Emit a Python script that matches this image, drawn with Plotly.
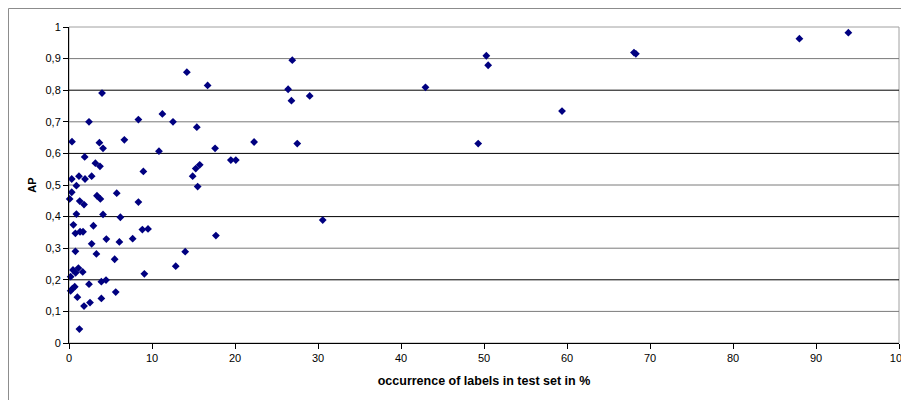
import plotly.graph_objects as go

# occurrence of labels in test set (%) and AP
occurrence = [
    0.36, 0.89, 0.33, 1.20, 1.93, 2.73, 1.89, 2.41, 3.18, 3.73, 3.66, 4.10, 3.98,
    6.67, 8.36, 8.96, 10.84, 11.25, 12.53, 14.2, 16.7, 15.4, 17.6, 19.5, 20.1,
    22.3, 26.9, 26.4, 26.8, 29.0, 27.5, 15.75, 15.27, 14.9, 15.5, 30.57, 17.7,
    14.0, 12.86, 0.33, 0.08, 1.29, 1.81, 3.37, 3.78, 5.75, 8.36, 0.89, 4.10,
    6.19, 0.53, 2.94, 0.77, 1.33, 1.69, 8.84, 9.52, 2.73, 4.50, 6.07, 7.67,
    0.77, 3.30, 5.50, 0.48, 1.13, 1.65, 0.80, 0.20, 9.08, 0.69, 0.41, 0.20,
    2.41, 3.90, 4.46, 5.63, 1.01, 3.90, 2.53, 1.81, 1.25,
    50.28, 50.5, 42.95, 59.4, 49.3, 68.07, 68.3, 88.0, 93.9,
]
ap = [
    0.637, 0.498, 0.519, 0.528, 0.519, 0.528, 0.589, 0.700, 0.569, 0.559, 0.634,
    0.616, 0.791, 0.643, 0.707, 0.543, 0.607, 0.725, 0.700, 0.857, 0.815, 0.683,
    0.616, 0.579, 0.579, 0.636, 0.895, 0.803, 0.767, 0.782, 0.631, 0.564, 0.552,
    0.528, 0.495, 0.389, 0.340, 0.289, 0.243, 0.477, 0.456, 0.449, 0.438, 0.466,
    0.456, 0.474, 0.446, 0.408, 0.407, 0.398, 0.374, 0.371, 0.347, 0.352, 0.352,
    0.359, 0.361, 0.314, 0.329, 0.320, 0.330, 0.290, 0.282, 0.265, 0.231, 0.237,
    0.225, 0.222, 0.210, 0.219, 0.178, 0.172, 0.165, 0.186, 0.194, 0.199, 0.161,
    0.145, 0.141, 0.128, 0.117, 0.044,
    0.909, 0.879, 0.809, 0.734, 0.631, 0.919, 0.915, 0.963, 0.982,
]

x_ticks = [0, 10, 20, 30, 40, 50, 60, 70, 80, 90, 100]
y_ticks = [0, 0.1, 0.2, 0.3, 0.4, 0.5, 0.6, 0.7, 0.8, 0.9, 1]
y_tick_labels = ["0", "0,1", "0,2", "0,3", "0,4", "0,5", "0,6", "0,7", "0,8", "0,9", "1"]

fig = go.Figure()
fig.add_trace(go.Scatter(
    x=occurrence, y=ap, mode="markers",
    marker=dict(symbol="diamond", size=6, color="#000080", line=dict(width=0)),
    hoverinfo="x+y", showlegend=False, cliponaxis=False,
))

shapes = []
# plot-area border (light gray)
shapes.append(dict(type="rect", xref="paper", yref="paper", x0=0, x1=1, y0=0, y1=1,
                   line=dict(color="#a0a0a0", width=1), layer="below"))
# gridlines with alternating tones as in the reference
for i, v in enumerate(y_ticks[1:-1]):
    shapes.append(dict(type="line", xref="paper", yref="y", x0=0, x1=1, y0=v, y1=v,
                       line=dict(color="#000000" if i % 2 == 1 else "#7a7a7a", width=1),
                       layer="below"))
# outer chart border
shapes.append(dict(type="rect", xref="paper", yref="paper",
                   x0=-0.0729, x1=1.05, y0=-0.2, y1=1.0585,
                   line=dict(color="#8c8c8c", width=1)))

font = "Liberation Sans, Arial, sans-serif"
fig.update_layout(
    width=901, height=392,
    margin=dict(l=61, r=10, t=19, b=57, autoexpand=False),
    paper_bgcolor="white", plot_bgcolor="white",
    font=dict(family=font, size=11, color="black"),
    shapes=shapes,
    xaxis=dict(
        range=[0, 100], tickvals=x_ticks, ticktext=[str(t) for t in x_ticks],
        showgrid=False, zeroline=False, automargin=False,
        showline=True, linecolor="black", linewidth=1,
        ticks="outside", ticklen=5, tickcolor="black",
        tickfont=dict(size=11, family=font),
        title=dict(text="<b>occurrence of labels in test set in %</b>",
                   font=dict(size=12.5, family=font), standoff=13),
    ),
    yaxis=dict(
        range=[0, 1], tickvals=y_ticks, ticktext=y_tick_labels,
        showgrid=False, zeroline=False, automargin=False,
        showline=True, linecolor="black", linewidth=1,
        ticks="outside", ticklen=5, tickcolor="black",
        tickfont=dict(size=11, family=font),
        title=dict(text="<b>AP</b>", font=dict(size=11, family=font), standoff=6),
    ),
)

fig.write_html("out.html")
